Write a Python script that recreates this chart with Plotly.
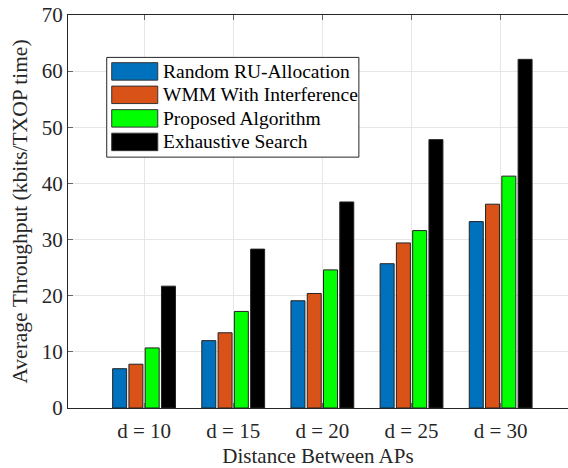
import plotly.graph_objects as go

categories = ["d = 10", "d = 15", "d = 20", "d = 25", "d = 30"]
series_names = ["Random RU-Allocation", "WMM With Interference", "Proposed Algorithm", "Exhaustive Search"]
random_ru = [7.0, 12.0, 19.1, 25.7, 33.2]
wmm = [7.8, 13.4, 20.4, 29.4, 36.3]
proposed = [10.7, 17.2, 24.6, 31.6, 41.3]
exhaustive = [21.7, 28.3, 36.7, 47.8, 62.1]
colors = ["#0072BD", "#D95319", "#00FF00", "#000000"]
y_ticks = [0, 10, 20, 30, 40, 50, 60, 70]

W, H = 568, 468
ML, MT, MB, MR = 68.3, 14.5, 59.5, 0
FONT = "Liberation Serif"
TXT = "#262626"

fig = go.Figure()
for name, vals, col in zip(series_names, [random_ru, wmm, proposed, exhaustive], colors):
    fig.add_trace(go.Bar(x=categories, y=vals, name=name, marker_color=col,
                         marker_line_color="#222222", marker_line_width=1,
                         showlegend=False))

# custom legend (paper coords)
pw = W - ML - MR
ph = H - MT - MB
def px(x):
    return (x - ML) / pw
def py(y):
    return (H - MB - y) / ph

shapes = [dict(type="rect", xref="paper", yref="paper", x0=px(107), x1=px(359), y0=py(157), y1=py(57),
               line=dict(color="#262626", width=1), fillcolor="white", layer="above")]
annotations = []
row_tops = [62.3, 85.8, 109.4, 133.0]
for i, (name, col) in enumerate(zip(series_names, colors)):
    t = row_tops[i]
    shapes.append(dict(type="rect", xref="paper", yref="paper", x0=px(112), x1=px(158),
                       y0=py(t + 17.5), y1=py(t), fillcolor=col,
                       line=dict(color="#333333", width=1), layer="above"))
    annotations.append(dict(xref="paper", yref="paper", x=px(161), y=py(t + 8.8),
                            xanchor="left", yanchor="middle", text=name, showarrow=False,
                            font=dict(family=FONT, size=19.5, color="#000000")))

fig.update_layout(
    width=W, height=H,
    margin=dict(l=ML, r=MR, t=MT, b=MB, pad=0),
    paper_bgcolor="white", plot_bgcolor="white",
    barmode="group", bargap=0.27, bargroupgap=0.14,
    font=dict(family=FONT, color=TXT, size=21),
    shapes=shapes, annotations=annotations,
    xaxis=dict(range=[-0.853, 4.755], showgrid=True, gridcolor="#e6e6e6", gridwidth=1,
               showline=True, linecolor="#262626", linewidth=1.3, mirror="ticks",
               ticks="inside", ticklen=5, tickcolor="#666666", ticklabelstandoff=4,
               tickfont=dict(family=FONT, size=21, color=TXT),
               title=dict(text="Distance Between APs", font=dict(family=FONT, size=21, color=TXT), standoff=5)),
    yaxis=dict(range=[0, 70], tickvals=y_ticks, showgrid=True, gridcolor="#e6e6e6", gridwidth=1,
               showline=True, linecolor="#262626", linewidth=1.3, mirror=False,
               ticks="inside", ticklen=5, tickcolor="#666666", zeroline=False,
               tickfont=dict(family=FONT, size=21, color=TXT),
               title=dict(text="Average Throughput (kbits/TXOP time)", font=dict(family=FONT, size=21.5, color=TXT), standoff=8)),
)

fig.write_html("out.html")
